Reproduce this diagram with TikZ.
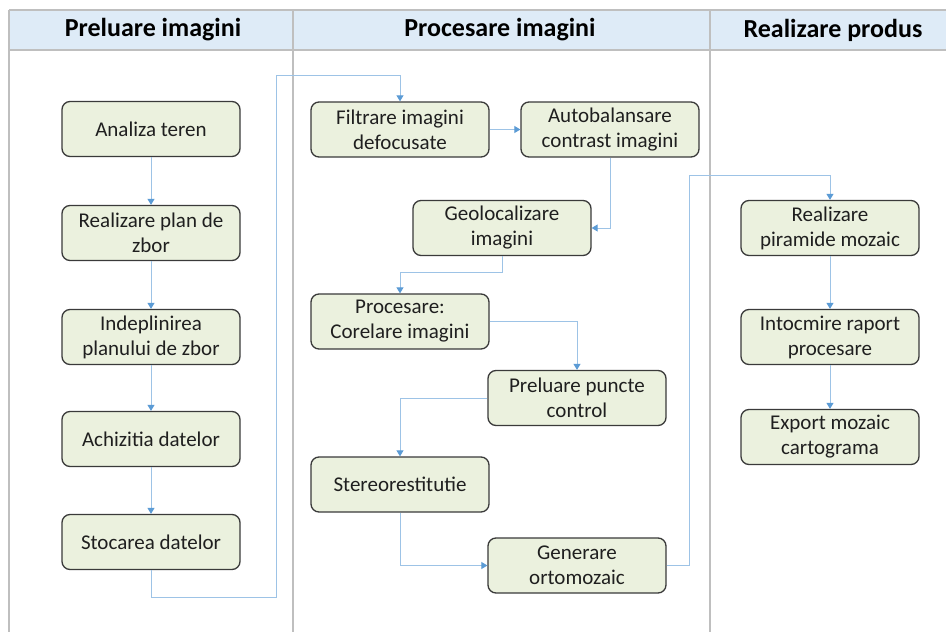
\documentclass[tikz,border=0pt]{standalone}
\usepackage{fontspec}
\setmainfont{Carlito}
\usetikzlibrary{arrows.meta}
\definecolor{boxfill}{HTML}{EBF1DE}
\definecolor{boxdraw}{HTML}{3A3A3A}
\definecolor{hdrfill}{HTML}{DEEBF7}
\definecolor{gridc}{HTML}{BFBFBF}
\definecolor{connc}{HTML}{9DC3E6}
\definecolor{arrowc}{HTML}{5B9BD5}
\definecolor{txtc}{HTML}{1F1F1F}
\tikzset{
  stepbox/.style={draw=boxdraw, fill=boxfill, line width=1.3pt, rounded corners=8pt,
    minimum width=178pt, minimum height=55pt, align=center, text=txtc,
    font=\fontsize{21}{25}\selectfont, inner sep=2pt},
  hdr/.style={font=\fontsize{26}{30}\selectfont\bfseries, text=black},
  conn/.style={draw=connc, line width=1pt, -{Triangle[length=6pt,width=7pt,color=arrowc]}},
  grid/.style={draw=gridc, line width=1.6pt}
}
\begin{document}
\begin{tikzpicture}[x=1pt,y=-1pt]
\useasboundingbox (0,0) rectangle (946,632);
\fill[white] (0,0) rectangle (946,632);
% header
\fill[hdrfill] (9,10) rectangle (946,50);
\draw[grid] (9,10) -- (946,10);
\draw[grid] (9,50) -- (946,50);
\draw[grid] (9,10) -- (9,632);
\draw[grid] (293,10) -- (293,632);
\draw[grid] (710,10) -- (710,632);
\node[hdr] (h1) at (153,30) {Preluare imagini};
\node[hdr] (h2) at (500,30) {Procesare imagini};
\node[hdr] (h3) at (833,30) {Realizare produs};
% left column
\node[stepbox] (a1) at (151,129) {Analiza teren};
\node[stepbox] (a2) at (151,233) {Realizare plan de\\zbor};
\node[stepbox] (a3) at (151,337) {Indeplinirea\\planului de zbor};
\node[stepbox] (a4) at (151,439) {Achizitia datelor};
\node[stepbox] (a5) at (151,542) {Stocarea datelor};
% middle column
\node[stepbox] (b1) at (400,129.5) {Filtrare imagini\\defocusate};
\node[stepbox] (b2) at (610,129.5) {Autobalansare\\contrast imagini};
\node[stepbox] (b3) at (502,228) {Geolocalizare\\imagini};
\node[stepbox] (b4) at (400,321.5) {Procesare:\\Corelare imagini};
\node[stepbox] (b5) at (577,398) {Preluare puncte\\control};
\node[stepbox] (b6) at (400,484.5) {Stereorestitutie};
\node[stepbox] (b7) at (577,565.5) {Generare\\ortomozaic};
% right column
\node[stepbox] (c1) at (830,228) {Realizare\\piramide mozaic};
\node[stepbox] (c2) at (830,337) {Intocmire raport\\procesare};
\node[stepbox] (c3) at (830,437) {Export mozaic\\cartograma};
% helper coordinates
\coordinate (k1) at (276,597);
\coordinate (k2) at (276,75);
\coordinate (k3) at (502,272);
\coordinate (k4) at (689,175);
% connectors
\draw[conn] (a1) -- (a2);
\draw[conn] (a2) -- (a3);
\draw[conn] (a3) -- (a4);
\draw[conn] (a4) -- (a5);
\draw[conn] (a5.south) |- (k1) -- (k2) -| (b1.north);
\draw[conn] (b1) -- (b2);
\draw[conn] (b2.south) |- (b3.east);
\draw[conn] (b3.south) -- (k3) -| (b4.north);
\draw[conn] (b4.east) -| (b5.north);
\draw[conn] (b5.west) -| (b6.north);
\draw[conn] (b6.south) |- (b7.west);
\draw[conn] (b7.east) -| (k4) -| (c1.north);
\draw[conn] (c1) -- (c2);
\draw[conn] (c2) -- (c3);
\end{tikzpicture}
\end{document}
